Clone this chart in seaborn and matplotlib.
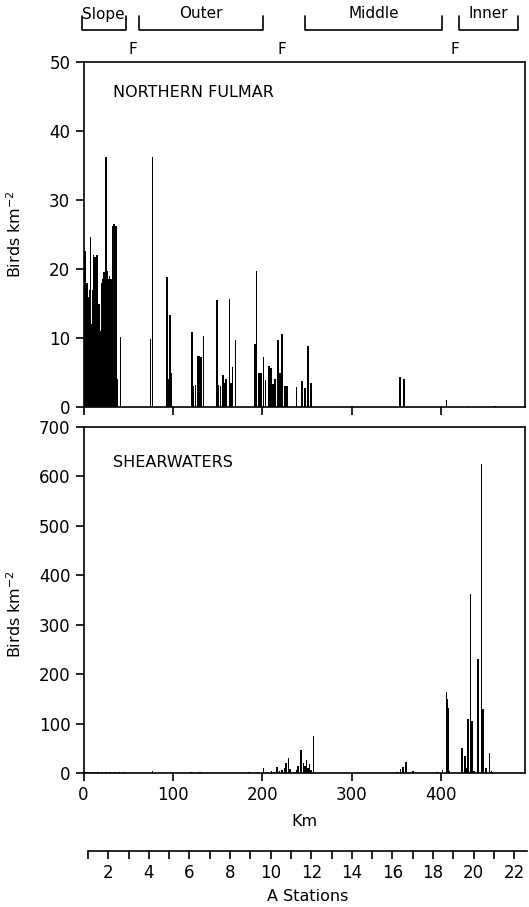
"""Seabird densities along the transect: northern fulmar and shearwaters."""
import matplotlib
matplotlib.use("Agg")
import matplotlib.pyplot as plt
import numpy as np
import pandas as pd
import seaborn as sns

# ── data ──────────────────────────────────────────────────────────
fulmar_km = [1, 2, 3, 4, 5, 6, 7, 8, 9, 10, 11, 12, 13, 14, 15, 16, 17, 18, 19,
             20, 21, 22, 23, 24, 25, 26, 27, 28, 29, 30, 31, 32, 33, 34, 35, 36,
             37, 38, 41.5, 75, 77, 93.5, 95, 96.5, 97.5, 121, 123, 125, 127.5,
             129, 131, 134, 149.5, 151, 153, 156, 158, 159.5, 163, 164.5, 166.5,
             170, 191.5, 193.5, 195.5, 197, 198.5, 201, 203.5, 207, 209.5, 212,
             214, 217, 219.5, 222, 225, 227.5, 238, 244, 247.5, 250.5, 254, 285,
             300, 353.5, 358, 405.5, 430, 460]
fulmar_density = [15.5, 22.6, 11, 18, 9, 16, 17, 24.7, 12, 17, 22, 14, 21.8, 10,
                  22, 14, 15, 15, 11, 15, 18, 18.5, 19.5, 17, 36.2, 18.5, 19.7,
                  18.5, 19, 15, 18.5, 12, 26.2, 26.5, 13, 26.3, 26, 4, 10.2, 9.9,
                  36.2, 18.8, 4, 13.4, 5, 10.8, 3, 3.2, 7.4, 7.4, 7.2, 10.3, 15.5,
                  3.2, 3, 4.6, 3.5, 4, 15.6, 3.5, 5.8, 9.7, 9.2, 19.7, 4.9, 5, 4.9,
                  7.2, 3.9, 5.9, 5.6, 3.3, 4.1, 9.7, 4.9, 10.6, 3.1, 3, 2.9, 3.7,
                  2.8, 8.9, 3.5, 0.15, 0.15, 4.3, 4, 1, 0.1, 0.1]

shear_km = [1, 3, 5, 8, 12, 16, 20, 25, 30, 35, 40, 46, 77, 100, 120, 130, 140,
            160, 185, 195, 201, 205, 210, 213, 216, 219, 222, 224.5, 226.3, 228.9,
            231, 238, 240, 243, 245.6, 247.5, 249.3, 251, 252.3, 254.5, 256.8,
            300, 350, 354, 357.3, 360.5, 368.5, 395, 401.3, 405.4, 406.5, 407.6,
            409, 423, 426, 427.5, 429.6, 432.2, 434, 436, 440.9, 444.6, 446.5,
            450, 453.6, 456]
shear_density = [3, 2.5, 3, 2, 2.5, 2, 2, 2, 1.5, 2, 1.5, 1.5, 5, 1, 1.5, 2, 1,
                 1, 1.5, 2, 10, 3, 4, 3, 12, 5, 6, 10, 20, 30, 8, 6, 14, 46, 20,
                 15, 26, 10, 19, 6, 75, 0.5, 3, 8, 12, 23, 5, 2, 6, 163, 150, 132,
                 4, 51, 35, 10, 110, 362, 105, 5, 231, 625, 130, 10, 41, 5]

zones = ["Slope", "Outer", "Middle", "Inner"]
zone_start_km = [-1.7, 62, 247.5, 419.5]
zone_end_km = [47, 200.5, 400.5, 485.5]
front_km = [55, 222, 415]

km_ticks = [0, 100, 200, 300, 400]
stations = list(range(1, 23))
station_labels = [str(s) if s % 2 == 0 else "" for s in stations]

# ── layout helpers (pixel boxes on a 529 x 907 canvas) ────────────
W, H = 529, 907
KM_MAX = 493.3
BAR_KM = 1.8


def px_box(left, top, right, bottom):
    return [left / W, 1 - bottom / H, (right - left) / W, (bottom - top) / H]


sns.set_style("ticks")
plt.rcParams.update({
    "font.family": ["DejaVu Sans"],
    "axes.linewidth": 1.2,
    "xtick.major.width": 1.2,
    "ytick.major.width": 1.2,
    "xtick.major.size": 6,
    "ytick.major.size": 6,
    "xtick.labelsize": 12,
    "ytick.labelsize": 12,
    "axes.labelsize": 11.5,
    "xtick.color": "black",
    "ytick.color": "black",
    "axes.edgecolor": "black",
    "axes.labelcolor": "black",
    "text.color": "black",
})

fig = plt.figure(figsize=(W / 100, H / 100), dpi=100)
ax_top = fig.add_axes(px_box(83.5, 62, 525, 407))
ax_bot = fig.add_axes(px_box(83.5, 427, 525, 773))
ax_hdr = fig.add_axes(px_box(83.5, 0, 525, 60))
ax_st = fig.add_axes(px_box(88, 850, 527, 851))


def density_bars(ax, km, density, ymax, ystep, title, title_y):
    df = pd.DataFrame({"km": km, "density": density})
    min_gap = np.min(np.diff(np.unique(df["km"])))
    sns.barplot(data=df, x="km", y="density", native_scale=True, orient="x",
                width=BAR_KM / min_gap, color="black", saturation=1,
                errorbar=None, linewidth=0, ax=ax)
    ax.set_xlim(0, KM_MAX)
    ax.set_ylim(0, ymax)
    ax.set_yticks(np.arange(0, ymax + 1, ystep))
    ax.set_xticks(km_ticks)
    ax.set_ylabel("Birds km$^{-2}$")
    ax.text(0.067, title_y, title, transform=ax.transAxes, fontsize=11.5,
            va="center", ha="left")
    for side in ("top", "right", "left", "bottom"):
        ax.spines[side].set_visible(True)


density_bars(ax_top, fulmar_km, fulmar_density, 50, 10, "NORTHERN FULMAR", 0.913)
ax_top.set_xticklabels([])
ax_top.set_xlabel("")
ax_top.yaxis.set_label_coords(-0.135, 0.5)

density_bars(ax_bot, shear_km, shear_density, 700, 100, "SHEARWATERS", 0.896)
ax_bot.set_xlabel("Km", labelpad=7)
ax_bot.yaxis.set_label_coords(-0.135, 0.46)

# ── shelf domain brackets and fronts ──────────────────────────────
ax_hdr.set_xlim(0, KM_MAX)
ax_hdr.set_ylim(60, 0)
ax_hdr.axis("off")
for name, x0, x1 in zip(zones, zone_start_km, zone_end_km):
    ax_hdr.plot([x0, x0, x1, x1], [16, 30, 30, 16], color="black", lw=1.2,
                clip_on=False)
    ax_hdr.text((x0 + x1) / 2, 14, name, ha="center", va="center",
                fontsize=11)
for xf in front_km:
    ax_hdr.text(xf, 49, "F", ha="center", va="center", fontsize=11)

# ── station scale ─────────────────────────────────────────────────
ax_st.set_xlim(1, 22.63)
ax_st.set_xticks(stations)
ax_st.set_xticklabels(station_labels)
ax_st.set_yticks([])
ax_st.patch.set_visible(False)
for side in ("top", "right", "left"):
    ax_st.spines[side].set_visible(False)
ax_st.tick_params(axis="x", direction="out", length=6, labelsize=12)
ax_st.set_xlabel("A Stations", fontsize=11.5, labelpad=5)

fig.savefig("out.png", dpi=100)
